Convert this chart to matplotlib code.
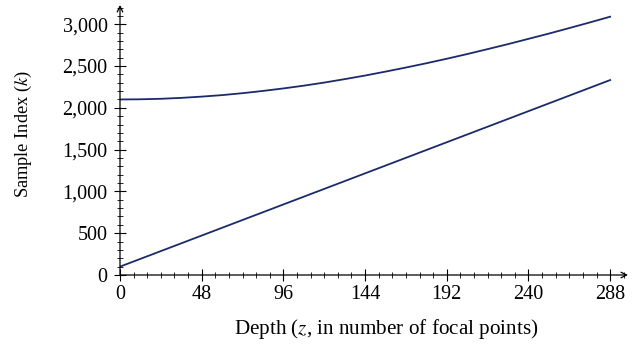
import matplotlib
matplotlib.use("Agg")
import matplotlib.pyplot as plt
from matplotlib.ticker import MultipleLocator, FuncFormatter

# valeurs
depth = [0, 12, 24, 36, 48, 60, 72, 84, 96, 108, 120, 132, 144,
         156, 168, 180, 192, 204, 216, 228, 240, 252, 264, 276, 288]
upper_k = [2100, 2102, 2108, 2119, 2134, 2152, 2175, 2202, 2232, 2265, 2302, 2343, 2386,
           2433, 2482, 2533, 2587, 2643, 2702, 2762, 2825, 2888, 2954, 3021, 3090]
lower_k = [100, 193, 286, 379, 472, 565, 658, 751, 844, 937, 1030, 1123, 1216,
           1309, 1402, 1495, 1588, 1681, 1774, 1867, 1960, 2053, 2146, 2239, 2332]
xticks = [0, 48, 96, 144, 192, 240, 288]
yticks = [0, 500, 1000, 1500, 2000, 2500, 3000]

plt.rcParams['font.family'] = ['Liberation Serif', 'DejaVu Serif']
plt.rcParams['mathtext.fontset'] = 'stix'

line_color = '#1b2a6b'

fig = plt.figure(figsize=(6.37, 3.45), dpi=100)
ax = fig.add_axes([120 / 637, 70 / 345, 508 / 637, 270 / 345])

ax.plot(depth, upper_k, color=line_color, lw=1.3)
ax.plot(depth, lower_k, color=line_color, lw=1.3)

ax.set_xlim(0, 298.5)
ax.set_ylim(0, 3230)

for s in ax.spines.values():
    s.set_visible(False)

# axes avec flèches
ax.annotate('', xy=(1, 0), xytext=(0, 0), xycoords='axes fraction',
            arrowprops=dict(arrowstyle='->', color='black', lw=0.9, shrinkA=0, shrinkB=0))
ax.annotate('', xy=(0, 1), xytext=(0, 0), xycoords='axes fraction',
            arrowprops=dict(arrowstyle='->', color='black', lw=0.9, shrinkA=0, shrinkB=0))

ax.set_xticks(xticks)
ax.set_yticks(yticks)
ax.xaxis.set_minor_locator(MultipleLocator(8))
ax.yaxis.set_minor_locator(MultipleLocator(100))
ax.yaxis.set_major_formatter(FuncFormatter(lambda v, p: f'{int(v):,}'))
ax.tick_params(which='major', direction='inout', length=8, width=0.8, labelsize=14.5)
ax.tick_params(axis='y', which='major', pad=5)
ax.tick_params(axis='x', which='major', pad=3)
ax.tick_params(which='minor', direction='inout', length=5, width=0.6)

ax.set_xlabel('Depth ($z$, in number of focal points)', fontsize=15.2)
ax.set_ylabel('Sample Index ($k$)', fontsize=13.2)
ax.xaxis.set_label_coords(0.524, -0.156)
ax.yaxis.set_label_coords(-0.169, 0.522)

fig.savefig('out.png', dpi=100)
